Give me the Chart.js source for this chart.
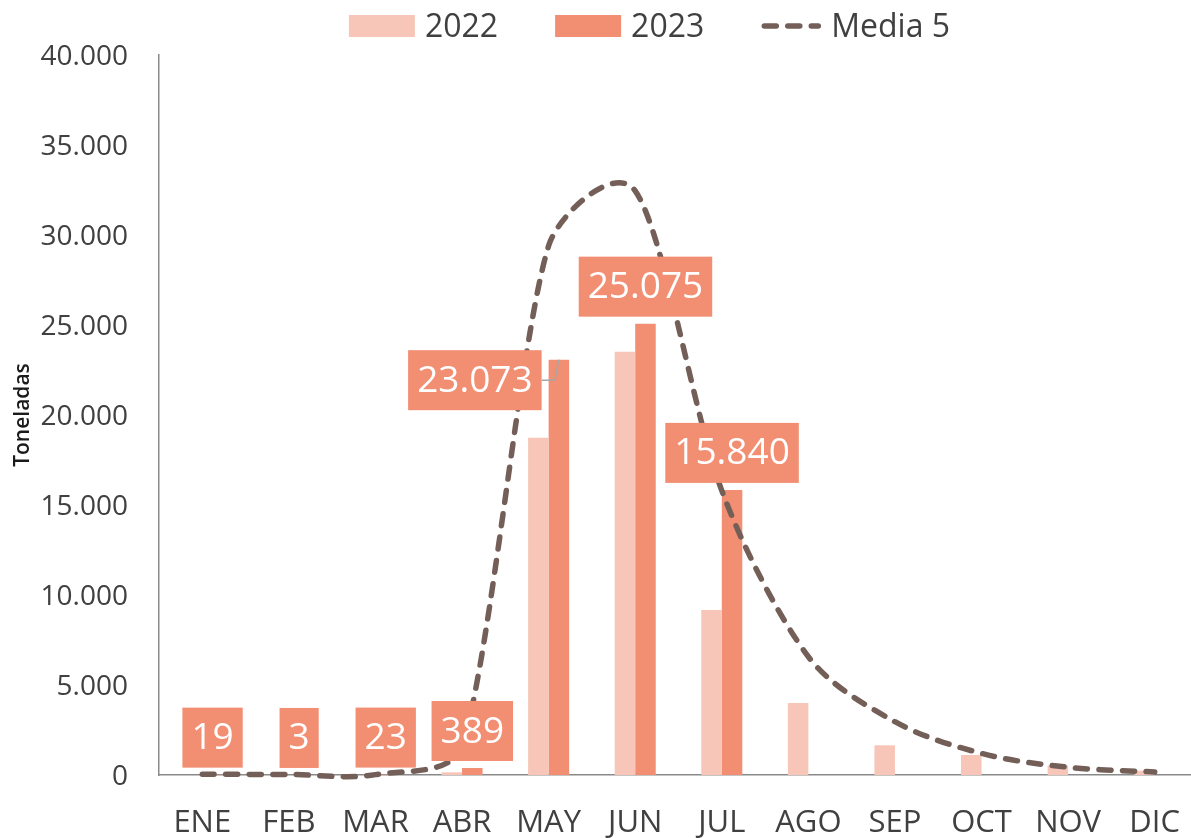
<!DOCTYPE html>
<html><head><meta charset="utf-8">
<script src="https://cdn.jsdelivr.net/npm/chart.js@4/dist/chart.umd.min.js"></script>
<style>html,body{margin:0;padding:0;overflow:hidden;background:#fff;width:1191px;height:838px}
canvas{display:block}</style></head>
<body><canvas id="c" width="1198" height="838"></canvas>
<script>
const months = ['ENE','FEB','MAR','ABR','MAY','JUN','JUL','AGO','SEP','OCT','NOV','DIC'];
const values2022 = [0, 0, 0, 150, 18740, 23520, 9170, 4000, 1650, 1110, 520, 240];
const values2023 = [19, 3, 23, 389, 23073, 25075, 15840, null, null, null, null, null];
const media5 = [40, 30, 20, 1600, 29400, 32450, 15800, 6570, 2960, 1200, 430, 170];
const yTicks = [0, 5000, 10000, 15000, 20000, 25000, 30000, 35000, 40000];

const FONT = "'Open Sans', 'Noto Sans', sans-serif";
const fmt = v => String(Math.round(v)).replace(/\B(?=(\d{3})+(?!\d))/g, '.');

// Excel-like smoothing of the library's own bezier control points
const excelSmooth = {
  id: 'excelSmooth',
  beforeDatasetsDraw(chart) {
    chart.data.datasets.forEach((ds, di) => {
      if (ds.type !== 'line') return;
      const meta = chart.getDatasetMeta(di);
      const line = meta.dataset;
      line.updateControlPoints(chart.chartArea, 'x');
      const pts = meta.data;
      const n = pts.length;
      const P = i => pts[Math.max(0, Math.min(n - 1, i))];
      for (let i = 0; i < n - 1; i++) {
        const p0 = P(i - 1), p1 = P(i), p2 = P(i + 1), p3 = P(i + 2);
        const d12 = Math.hypot(p2.x - p1.x, p2.y - p1.y);
        const v1x = p2.x - p0.x, v1y = p2.y - p0.y;
        const v2x = p3.x - p1.x, v2y = p3.y - p1.y;
        const d02 = Math.hypot(v1x, v1y) || 1, d13 = Math.hypot(v2x, v2y) || 1;
        const f1 = Math.min(1 / 6, d12 / (3 * d02));
        const f2 = Math.min(1 / 6, d12 / (3 * d13));
        p1.cp2x = p1.x + f1 * v1x; p1.cp2y = p1.y + f1 * v1y;
        p2.cp1x = p2.x - f2 * v2x; p2.cp1y = p2.y - f2 * v2y;
      }
      line._path = undefined;
    });
  }
};

const legendPlugin = {
  id: 'customLegend',
  afterDraw(chart, args, opts) {
    const ctx = chart.ctx;
    ctx.save();
    ctx.font = `32px ${FONT}`;
    ctx.textBaseline = 'middle';
    ctx.textAlign = 'left';
    const items = chart.data.datasets.map(ds => ({
      ds, sym: ds.type === 'line' ? 60 : 66, tw: ctx.measureText(ds.label).width
    }));
    const total = items.reduce((a, it, i) => a + it.sym + 10 + it.tw + (i < items.length - 1 ? 57 : 0), 0);
    let x = opts.centerX - total / 2;
    const cy = opts.centerY;
    items.forEach(it => {
      const ds = it.ds;
      if (ds.type === 'line') {
        ctx.save();
        ctx.strokeStyle = ds.borderColor;
        ctx.lineWidth = ds.borderWidth;
        ctx.lineCap = 'round';
        ctx.setLineDash(ds.borderDash);
        ctx.beginPath();
        ctx.moveTo(x + 3, cy + 1);
        ctx.lineTo(x + it.sym - 3, cy + 1);
        ctx.stroke();
        ctx.restore();
      } else {
        ctx.fillStyle = ds.backgroundColor;
        ctx.fillRect(x, cy - 10, 66, 22);
      }
      x += it.sym + 10;
      ctx.fillStyle = '#404040';
      ctx.fillText(ds.label, x, cy + 3);
      x += it.tw + 57;
    });
    ctx.restore();
  }
};

const barLabels = {
  id: 'barLabels',
  afterDatasetsDraw(chart, args, opts) {
    const ctx = chart.ctx;
    const idx = chart.data.datasets.findIndex(d => d.label === opts.series);
    const ds = chart.data.datasets[idx];
    const meta = chart.getDatasetMeta(idx);
    ctx.save();
    ctx.font = `37px ${FONT}`;
    ctx.textBaseline = 'middle';
    ctx.textAlign = 'center';
    meta.data.forEach((bar, i) => {
      const v = ds.data[i];
      if (v == null) return;
      const text = fmt(v);
      const w = ctx.measureText(text).width + 18;
      const h = 60;
      let bx, by;
      if (opts.leftOf.includes(i)) {
        bx = bar.x - bar.width / 2 - 7 - w;
        by = bar.y + 20.5 - h / 2;
        ctx.strokeStyle = '#A6A6A6';
        ctx.lineWidth = 1.5;
        ctx.beginPath();
        ctx.moveTo(bx + w, by + h / 2);
        ctx.lineTo(bar.x - 4, by + h / 2);
        ctx.lineTo(bar.x, bar.y);
        ctx.stroke();
      } else {
        bx = bar.x - w / 2;
        by = bar.y - 7 - h;
      }
      ctx.fillStyle = ds.backgroundColor;
      ctx.fillRect(bx, by, w, h);
      ctx.fillStyle = '#ffffff';
      ctx.fillText(text, bx + w / 2, by + h / 2 + 1);
    });
    ctx.restore();
  }
};

new Chart(document.getElementById('c'), {
  type: 'bar',
  data: {
    labels: months,
    datasets: [
      { type: 'bar', label: '2022', data: values2022, backgroundColor: '#F7C6B9',
        categoryPercentage: 0.474, barPercentage: 1, order: 2 },
      { type: 'bar', label: '2023', data: values2023, backgroundColor: '#F28E72',
        categoryPercentage: 0.474, barPercentage: 1, order: 2 },
      { type: 'line', label: 'Media 5', data: media5, borderColor: '#735F57',
        borderWidth: 5.5, borderDash: [12, 11.5], borderCapStyle: 'round',
        pointRadius: 0, tension: 0.4, fill: false, order: 1, clip: false }
    ]
  },
  options: {
    responsive: false,
    animation: false,
    layout: { padding: { top: 55, left: 0, right: 0, bottom: 0 } },
    elements: { line: { capBezierPoints: false } },
    plugins: {
      legend: { display: false },
      tooltip: { enabled: false },
      customLegend: { centerX: 649.5, centerY: 25 },
      barLabels: { series: '2023', leftOf: [4] }
    },
    scales: {
      x: {
        grid: { display: false, drawTicks: false },
        border: { color: '#898989', width: 1.5 },
        ticks: { font: { family: FONT, size: 31 }, color: '#404040', padding: 30, maxRotation: 0, autoSkip: false },
        afterFit(s) { s.height = 63; s.paddingLeft = 0; s.paddingRight = 0; }
      },
      y: {
        min: 0, max: 40000,
        afterBuildTicks(s) { s.ticks = yTicks.map(v => ({ value: v })); },
        grid: { display: false, drawTicks: false },
        border: { color: '#898989', width: 1.5 },
        ticks: { font: { family: FONT, size: 28 }, color: '#404040', padding: 31, labelOffset: 2, callback: v => fmt(v) },
        title: { display: true, text: 'Toneladas', font: { family: FONT, size: 21, weight: '600' },
                 color: '#1a1a1a', padding: { top: 10, bottom: 0 } },
        afterFit(s) { s.width = 159; s.paddingTop = 0; s.paddingBottom = 0; }
      }
    }
  },
  plugins: [excelSmooth, legendPlugin, barLabels]
});
</script>
</body></html>
